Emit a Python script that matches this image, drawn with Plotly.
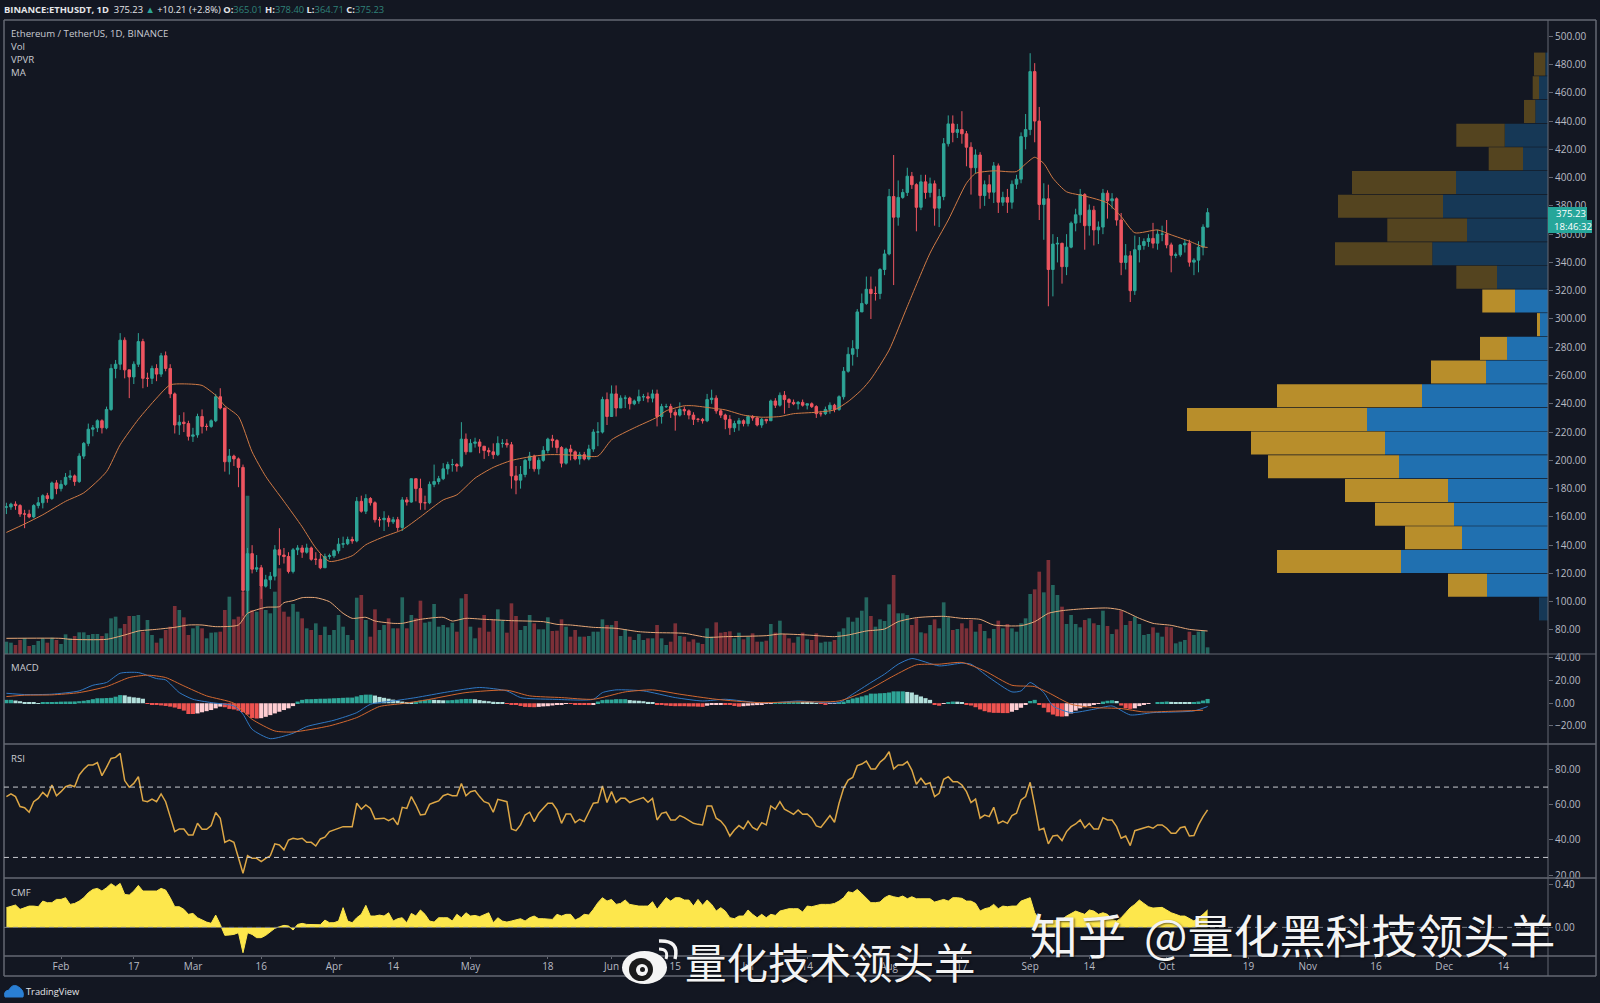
import pandas as pd
import plotly.graph_objects as go

W, H = 1600, 1003
X0, X1 = 4, 1548
dates = pd.date_range("2020-01-20", periods=265)

closes = [167,169,168,162,162,160,168,170,175,173,184,180,
 183,188,189,185,203,212,222,223,228,223,236,265,268,285,264,259,268,284,258,258,265,261,274,265,247,225,227,226,217,
 218,231,224,224,228,245,237,199,203,201,195,108,134,123,124,111,115.5,118,136.7,133,132,121.4,136.7,138,135,138,130,130,124,132,132.5,
 136,140.7,141,144,143,171,164,173,170,158,158,159,156.5,158,152.5,172,170.5,187,180,170,170,183,185,187,194,197,197,196,215,206,
 212,213,210,207,206,204,212,212,211,189,186,190,200,203,194,200,207,215,214,209,198,208,206,201,204,201,208,220,220,243,231,
 247,237,244,244,240,242,245,245,244,247,231,238,238,234,232,236,235,232,229,229,228,243,244,235,232,229,223,226,228,226,
 231,230,225,229,228,242,239,246,243,241,240,241,239,240,238,233,233,236,239,236,245,263,275,279,305,311,321,318,318,335,346,
 386.6,372,386,389.5,401,395,379,397,389.5,395.6,378.4,386.6,424,438,432,434,431,421.5,407,416,387.3,395,389.7,408.3,382.6,386,382.6,395.3,398.9,429,434,
 475,440,381,385,335,353,353.5,337,350.8,367.8,373.7,388,366,377,363,365,389,383.6,385,370,340,344.7,320,349,352,354.8,357,353.6,360,360,
 352.4,345,345.4,352.4,353.6,340.2,341.6,350.8,365,375.23]
highs = [170,170,171,169,165,165,169,174,176,177,185,186,
 186,191,193,190,205,213,226,225,229,229,238,268,271,290,287,262,270,290,286,262,267,268,276,277,268,248,232,234,228,
 223,233,236,226,229,247,251,237,208,204,202,197,138,140,133,126,119,121,140,152,138,135,138,140,140,141,139,135,134,134,134,
 137,145,146,146,146,174,175,176,174,171,160,164,161,160,160,174,174,187,187,187,175,185,197,189,198,199,201,198,227,219,
 215,216,215,210,209,212,217,215,215,213,196,196,201,206,204,202,210,216,218,215,210,209,211,207,206,206,211,222,227,245,248,
 253,253,246,246,245,243,250,247,248,250,250,240,240,240,236,241,238,236,234,230,230,247,250,246,236,233,232,228,230,229,
 232,232,231,230,229,243,244,248,249,244,243,242,243,240,241,239,235,238,241,240,246,266,280,285,307,318,330,330,323,336,349,
 392,416,398,392,407,404,396,402,402,400,398,392,428,444,444,438,447,433,425,420,418,398,402,411,410,390,392,398,402,432,445,
 488,481,450,396,395,360,358,354,360,369,378,392,389,381,380,369,392,391,389,386,375,353,348,359,358,357,360,368,363,366,
 370,354,347,353,356,356,343,355,367,378.4]
lows = [162,165,165,160,152,159,159,166,166,170,172,176,
 178,182,186,182,184,201,210,217,220,219,222,235,258,264,258,244,254,266,251,252,254,256,259,263,244,219,218,220,214,
 213,216,219,221,223,227,236,192,190,196,181,90,92,120,121,102,110,109,115,126,127,120,120,133,131,134,129,126,123,124,130,
 131,134,138,140,141,142,163,162,168,156,153,150,153,155,150,150,168,170,171,165,165,169,181,183,186,190,192,192,195,204,
 208,209,205,201,203,201,203,209,209,180,176,180,188,194,192,190,199,205,209,205,195,197,200,200,197,200,200,206,210,219,225,
 231,231,237,237,236,239,240,242,241,241,224,226,237,230,221,231,232,229,225,227,226,227,240,233,230,222,218,220,221,224,
 224,228,224,223,226,228,237,238,233,237,239,236,238,236,237,230,231,232,233,234,235,243,262,267,273,306,310,300,313,314,331,
 345,324,366,385,387,392,362,377,385,386,366,365,384,422,425,428,424,408,388,403,378,380,385,382,375,380,375,378,392,396,420,
 430,425,370,356,309,316,340,325,331,350,362,368,349,359,352,353,360,371,378,366,331,335,312,317,340,349,351,350,349,355,
 350,333,343,344,347,337,331,333,345,364.71]
first_open = 167
last_open = 365.01

volumes = [37,34,27,42,47,24,27,39,47,34, 49,42,30,59,47,54,65,65,57,60,
 60,54,62,107,112,77,90,114,114,117, 67,102,57,34,47,72,82,144,132,110,
 57,77,84,77,47,64,65,67,132,172, 104,112,187,475,132,127,202,132,122,187,
 257,127,112,150,127,107,77,72,92,57, 82,57,72,117,82,57,42,169,177,102,
 52,134,72,87,107,77,77,170,77,117, 107,160,94,97,150,82,87,80,94,67,
 167,180,82,47,79,117,67,104,134,102, 64,152,114,72,84,117,92,74,74,110,
 69,70,104,82,52,72,52,52,54,67, 67,104,87,87,99,54,74,52,42,60,
 42,47,47,87,47,27,37,92,54,52, 37,44,34,30,77,52,95,64,66,68,
 47,64,44,52,62,37,37,40,90,64, 100,60,47,34,52,64,44,42,62,34,
 37,37,42,67,77,110,97,109,130,170, 114,82,104,99,149,237,122,122,117,87,
 107,65,62,87,104,77,155,110,72,75, 92,77,102,67,90,69,47,75,100,77,
 90,77,67,92,107,180,194,247,185,282, 207,177,142,90,117,90,80,102,107,92,
 87,130,84,60,74,130,87,99,112,90, 57,60,80,64,52,82,80,32,37,42, 67,57,67,69,20]

ma_days = [0,4,8,13,17,22,25,29,33,36,40,43,46,48,51,54,57,61,65,68,71,76,79,83,87,91,96,99,103,107,111,116,119,122,126,130,133,138,143,145,149,151,155,158,162,166,170,173,178,182,185,188,190,194,198,203,207,211,213,217,222,224,226,228,230,233,237,242,245,248,253,256,260,263,264]
ma_vals = [149,155,161.5,171,177,192,211,229,244,253.4,254,253,246,238.6,231,206,188.6,171,153,138,128.5,132.5,140.3,146,150.9,160,172,175.6,187.4,195,199.9,203,204,204,203.4,203,214.5,223,230.5,235,238.6,238.6,237,235.7,232,230.5,231,233,234,235.7,241.6,250,257.5,278,308.8,346.6,370,396,403,404.8,404.3,409.7,414.4,410,399.6,390,387,382,372.5,361,363,359.5,355,351,350.6]

vma_days = [0,12,14,22,26,29,33,37,40,43,46,51,53,57,60,61,63,65,68,71,74,76,79,81,85,87,91,96,98,101,105,111,118,121,124,129,134,139,143,149,154,158,167,170,176,182,185,189,193,196,200,206,210,214,217,223,226,229,232,236,242,245,249,252,256,260,264]
vma_vals = [47,47,44,44,57,69,74,80,87,87,82,87,122,140,142,154,160,169,169,157,122,107,110,99,92,92,104,110,99,107,104,100,97,89,87,80,77,67,64,62,50,52,55,60,57,52,57,69,75,97,109,113,107,104,87,85,97,122,130,135,138,132,107,92,86,74,69]

macd_days = [0,4,10,16,19,22,25,29,33,35,38,41,45,50,52,54,58,63,66,72,77,80,85,90,97,104,110,113,120,129,131,134,140,147,153,158,165,169,174,183,186,190,193,196,199,205,210,212,216,221,223,225,228,230,234,239,243,247,252,261,264]
macd_vals = [8.8,7.7,8,10.9,15.9,18.3,26.5,27.1,21.8,20.6,9.4,3.5,.6,-2.4,-9.7,-23,-31.3,-26.5,-20.6,-15,-8.3,-.9,2,5,10,13.9,10.9,5,3.5,3.5,9.4,11.8,10.9,5,2,3.5,.6,.6,2,.6,8,18.3,25.7,34.5,39.5,33,35.4,34.5,22.7,10,10.9,18.3,9.4,-2.4,-8.3,-5.3,-2.4,-10.3,-8.3,-6.8,-2.9]
signal_days = [0,4,10,16,22,27,31,35,39,44,50,54,59,63,71,77,82,87,92,101,110,115,122,129,136,142,148,156,165,174,183,189,195,200,205,210,215,221,226,229,234,239,245,250,256,263]
signal_vals = [5.9,7.1,7.4,9.4,14.7,22.7,24.8,22.7,15.3,6.5,0,-14.2,-24.5,-25.4,-20,-12.7,-2.9,-.3,2.7,9.4,11.5,6.5,5,3.5,10,11.8,8,3.5,.6,1.2,2,10.9,24.2,33.9,34.5,36,28.6,15.9,14.7,9.4,-.9,-3.8,-4.7,-7.7,-7.1,-6.2]
hist_vals = [3,3,2.4,1.8,1,.6,.3,.1,.3,.6, .9,1.2,1.4,1.5,1.5,1.6,1.8,2.2,2.8,3.6,
 4.4,4.4,4.6,4.8,5.8,7.2,7.0,5.8,5.2,4.8, 4.0,-.4,-.9,-1.4,-1.9,-2.4,-3,-3.8,-5,-6.5,
 -9.5,-9.5,-9,-8,-7,-6,-4.5,-3,-3.5,-5, -5.5,-6.5,-8,-10,-13,-13.5,-13.2,-12,-10.5,-9,
 -7.5,-6,-4.5,-2.5,1.5,3,3.6,3.6,3.8,4, 4,4.2,4.4,4.6,4.8,5,5,6,7.2,7.6,
 7.6,6.8,5.6,4.8,4,3.2,2.4,1.5,.9,.6, 1.5,2.4,3,3.2,3,2.8,2.6,2.6,2.8,3.2,
 3.6,3.8,3.8,3.5,2.8,2.2,1.8,1.3,.8,.3, -.3,-.8,-1.4,-2.4,-3.2,-3.4,-3.5,-3.2,-2.8,-2.6,
 -2,-1.4,-.8,-.4,-.5,-1,-1.4,-1.5,-1.6,-1.2, 1.5,2.8,3.2,3.2,3.6,3.6,3.6,2.8,2.4,2.2,
 1.8,1.2,.6,-1,-1.5,-2,-2.4,-2.6,-2.6,-2.6, -2.8,-2.8,-3,-3.2,-2.2,-1.5,-1.2,-.8,-.8,-1.4,
 -2.4,-3,-2.6,-2.2,-1.8,-1.6,-1.2,-.6,-.3,.4, .8,1,1.2,1.2,1.2,1,.8,.4,.1,-.4,
 -.8,-.6,-.2,.4,1.5,3,4.2,5,6,7, 8.5,8.5,8.8,9,9.5,10.5,10.5,10.5,10,9.5,
 7.5,6,4.5,3,-1.5,-2.2,-.3,1,1.5,1.4, .8,-.7,-2,-3.5,-5.5,-7,-8,-8.5,-8.5,-8.7,
 -8.7,-7.5,-6,-4,-1.5,2,3,-1.5,-4,-8, -10,-11.5,-11.8,-11.5,-9,-6.5,-4.5,-3.5,-2.5,-1.5,
 -.5,1.5,2.2,2.6,2,-2,-4.5,-5,-4.5,-2.5, -1.5,-.5,0,1,1.2,1.5,1.2,.9,.8,.6, .5,1,1.5,2.4,3.8]

rsi_vals = [64.6,66.1,64.6,58.9,58.3,55.7,61.7,63.6,67,64.6, 71.2,65.1,67.4,70.2,71.2,70.2,76.9,80.1,82.6,82.6,
 83.9,76.5,81.2,86.3,86.9,89.2,73.7,69.9,72.1,75.9, 62.3,61.7,63.2,61.7,66.1,61.7,53.2,44.7,46.2,46.2,
 42.8,42.8,49.4,46,46,48.1,55.5,52.3,38.6,39.9, 38.6,29.5,21,31,29.5,29.5,27.6,29.5,30.9,37.7,
 37.1,34.3,39.9,40.9,40.3,40.9,38.6,38.6,36.5,40.5, 41.5,44.7,45.6,46.9,47.5,47.5,47.5,60.8,57.4,59.8,
 57.9,51.9,51.9,52.3,50.9,52.3,48.5,58.5,57.9,64.6, 59.8,54.1,54.5,60.2,61.2,62.1,65.1,66.1,65.1,65.1,
 72.1,65.1,67.4,68,64.6,61.7,60.8,55.7,63,62.3, 61.7,46.2,45.2,48.5,54.1,55.7,50.4,55.1,57.9,60.8,
 60.8,57,49.4,54.7,54.7,49.8,51.7,50.4,55.7,60.8, 61.2,70.6,61.2,67.4,61.2,63.6,63.6,61.2,62.3,63,
 64,61.4,63.6,51.3,55.1,55.7,51.3,51.3,53.8,52.6, 50.9,49.4,48.8,48.5,59.3,59.3,52.3,50.7,47.5,42.2,
 45.6,48.1,46.2,50.7,47.1,45.6,49.8,48.5,59.3,57.4, 61.7,57.4,56,54.5,57,54.5,54.7,52.3,47.9,47.1,
 50.4,53.8,50,60.8,69.3,74,75.5,82.2,83.1,84.8, 80.3,80.3,84.1,86.3,90.1,80.3,82.6,82.6,84.5,79.7,
 71.6,75,71.6,72.5,64.6,66.5,74.4,75.9,73.1,73.1, 71.2,67.4,61.2,63.2,52.3,54.1,53.2,58.5,49.4,50.7,
 49.4,53.8,55.1,62.7,64.6,72.7,59.5,45.6,46.6,37.7, 42.2,42.6,39.6,44.7,47.5,49,51.3,46.9,49.4,46.2,
 46.2,52.6,51.3,51.3,47.5,40.9,42.2,36.7,45.2,46, 46.8,47.5,46.6,48.5,48.5,46.6,43.7,43.7,46.9,47.5, 42.2,42.4,48.5,53.2,57]

cmf_vals = [.186,.201,.211,.170,.186,.201,.201,.195,.248,.233, .233,.264,.264,.280,.217,.226,.248,.280,.327,.358,
 .368,.343,.374,.412,.384,.415,.311,.305,.343,.396, .343,.343,.343,.343,.368,.352,.280,.195,.195,.170,
 .123,.132,.091,.069,.050,.038,.116,.028,-.075,-.072, -.066,-.050,-.239,-.050,-.066,-.097,-.097,-.075,-.044,-.009,
 .006,.019,.013,-.025,.028,.038,.028,.025,.025,.025, .069,.044,.044,.060,.186,.060,.044,.091,.123,.208,
 .107,.107,.116,.107,.138,.060,.082,.091,.044,.132, .107,.164,.123,.060,.050,.091,.091,.091,.060,.123,
 .091,.138,.107,.113,.101,.123,.138,.044,.091,.060, .050,.060,.069,.082,.060,.091,.107,.082,.082,.082,
 .075,.123,.107,.123,.123,.069,.091,.123,.116,.170, .233,.280,.248,.264,.217,.226,.258,.217,.208,.201,
 .201,.201,.242,.170,.226,.280,.248,.280,.280,.258, .258,.201,.264,.208,.258,.217,.154,.186,.154,.091,
 .082,.107,.107,.164,.123,.091,.123,.091,.123,.113, .154,.164,.176,.176,.176,.145,.201,.195,.208,.217,
 .217,.217,.226,.248,.280,.336,.327,.358,.318,.280, .233,.233,.239,.280,.302,.289,.280,.296,.270,.289,
 .270,.270,.270,.270,.239,.248,.264,.248,.280,.280, .274,.248,.248,.226,.154,.176,.186,.217,.176,.201,
 .195,.201,.201,.248,.264,.280,.138,.075,.060,.050, .060,.069,.075,.107,.132,.154,.138,.123,.164,.154,
 .123,.138,.123,.075,.060,.091,.138,.186,.217,.258, .226,.195,.182,.182,.189,.164,.138,.123,.107,.107, .082,.060,.091,.123,.164]

# Volume profile: price-row centres, up and total volume, top to bottom
vp_prices = [480.3,463.6,446.8,430.0,413.3,396.5,379.8,363.0,346.2,329.5,312.7,296.0,279.2,262.5,245.7,228.9,212.2,195.4,178.7,161.9,145.2,128.4,111.6,94.9]
vp_up = [2.7,9,12.7,43.3,25,92,105,81,115.7,51,33,8,41,62,126,181,163,149,100,94,86,147,61,9]
vp_total = [14,15.3,24,91.7,59.3,196,210,160.7,213,91.7,65.7,11,68,117,271,361,297,280,203,173,143,271,100,9]
vp_bright = [0,0,0,0,0,0,0,0,0,0,1,1,1,1,1,1,1,1,1,1,1,1,1,0]

price_ticks = list(range(80, 520, 20))
macd_ticks = [-20, 0, 20, 40]
rsi_ticks = [20, 40, 60, 80]
cmf_ticks = [0, 0.4]
time_ticks = ["2020-02-01","2020-02-17","2020-03-01","2020-03-16","2020-04-01","2020-04-14","2020-05-01","2020-05-18","2020-06-01","2020-06-15","2020-07-01","2020-07-14","2020-08-01","2020-08-17","2020-09-01","2020-09-14","2020-10-01","2020-10-19","2020-11-01","2020-11-16","2020-12-01","2020-12-14"]
time_labels = ["Feb","17","Mar","16","Apr","14","May","18","Jun","15","Jul","14","Aug","17","Sep","14","Oct","19","Nov","16","Dec","14"]

assert len(closes) == len(highs) == len(lows) == 265, (len(closes), len(highs), len(lows))
assert len(volumes) == 265, len(volumes)
assert len(hist_vals) == 265, len(hist_vals)
assert len(rsi_vals) == 265, len(rsi_vals)
assert len(cmf_vals) == 265, len(cmf_vals)
assert len(ma_days) == len(ma_vals) and len(vma_days) == len(vma_vals)
assert len(macd_days) == len(macd_vals) and len(signal_days) == len(signal_vals)

opens = [first_open] + closes[:-1]
opens[-1] = last_open

BG = "#131722"
UP, DOWN = "#2ea597", "#ee5560"
VUP, VDOWN = "#24665f", "#7c3038"
GRID = "#656873"
LABEL = "#b8bbc4"
FONT = "Open Sans"
DAY = 86400000

def px(x): return x / W
def py(y): return 1 - y / H
def when(d): return pd.Timestamp("2020-02-01") + pd.Timedelta(days=d)

t = [d.strftime("%Y-%m-%d") for d in dates]
pick = lambda idx: [t[i] for i in idx]

fig = go.Figure()

fig.add_trace(go.Bar(x=t, y=volumes, yaxis="y", xaxis="x", width=0.8 * DAY,
    marker=dict(color=[VUP if c >= o else VDOWN for o, c in zip(opens, closes)], line_width=0)))
fig.add_trace(go.Scatter(x=pick(vma_days), y=vma_vals, yaxis="y", xaxis="x", mode="lines",
    line=dict(color="#e8a878", width=1, shape="spline", smoothing=0.6)))

# volume profile on its own reversed axis
vp_down = [a - b for a, b in zip(vp_total, vp_up)]
fig.add_trace(go.Bar(y=vp_prices, x=vp_up, xaxis="x2", yaxis="y2", orientation="h", width=16.3,
    marker=dict(color=["#2070b0" if b else "#163856" for b in vp_bright], line_width=0)))
fig.add_trace(go.Bar(y=vp_prices, x=vp_down, base=vp_up, xaxis="x2", yaxis="y2", orientation="h", width=16.3,
    marker=dict(color=["#b88e2b" if b else "#54441f" for b in vp_bright], line_width=0)))

fig.add_trace(go.Candlestick(x=t, open=opens, high=highs, low=lows, close=closes, xaxis="x", yaxis="y2",
    increasing=dict(line=dict(color=UP, width=1), fillcolor=UP),
    decreasing=dict(line=dict(color=DOWN, width=1), fillcolor=DOWN), whiskerwidth=0))
fig.add_trace(go.Scatter(x=pick(ma_days), y=ma_vals, xaxis="x", yaxis="y2", mode="lines",
    line=dict(color="#d07a45", width=1, shape="spline", smoothing=0.6)))

hist_cols = []
for i, v in enumerate(hist_vals):
    prev = hist_vals[i - 1] if i else v
    if v >= 0:
        hist_cols.append("#2ea597" if v >= prev else "#b2dfdb")
    else:
        hist_cols.append("#ffcdd2" if v > prev else "#ef5350")
fig.add_trace(go.Bar(x=t, y=hist_vals, xaxis="x", yaxis="y3", width=0.9 * DAY, marker=dict(color=hist_cols, line_width=0)))
fig.add_trace(go.Scatter(x=pick(macd_days), y=macd_vals, xaxis="x", yaxis="y3", mode="lines",
    line=dict(color="#2f78c4", width=1, shape="spline", smoothing=0.6)))
fig.add_trace(go.Scatter(x=pick(signal_days), y=signal_vals, xaxis="x", yaxis="y3", mode="lines",
    line=dict(color="#d2672f", width=1, shape="spline", smoothing=0.6)))

fig.add_trace(go.Scatter(x=t, y=rsi_vals, xaxis="x", yaxis="y4", mode="lines", line=dict(color="#dda746", width=1.5)))
fig.add_trace(go.Scatter(x=t, y=cmf_vals, xaxis="x", yaxis="y5", mode="lines", fill="tozeroy",
    fillcolor="#fde74c", line=dict(color="#fde74c", width=1)))

def yax(top, bottom, rng, ticks, fmt=".2f", **kw):
    return dict(domain=[py(bottom), py(top)], range=rng, side="right", tickvals=ticks, tickformat=fmt,
                ticks="outside", ticklen=4, tickcolor=GRID, tickfont=dict(family=FONT, size=10, color=LABEL),
                showgrid=False, zeroline=False, showline=False, fixedrange=True, **kw)

xr = [when((X0 - 61) / 4.55), when((X1 - 61) / 4.55)]
fig.update_layout(
    width=W, height=H, margin=dict(l=0, r=0, t=0, b=0, pad=0, autoexpand=False), autosize=False,
    paper_bgcolor=BG, plot_bgcolor=BG, showlegend=False, barmode="overlay", boxgap=0.22,
    font=dict(family=FONT, color=LABEL), hovermode=False,
    xaxis=dict(domain=[px(X0), px(X1)], range=xr, type="date", anchor="y5", tickvals=time_ticks, ticktext=time_labels,
               ticks="outside", ticklen=2, ticklabelstandoff=-1, tickcolor=GRID, tickfont=dict(family=FONT, size=10, color=LABEL),
               showgrid=False, zeroline=False, showline=False, rangeslider=dict(visible=False), fixedrange=True),
    xaxis2=dict(domain=[px(X0), px(X1)], range=[X1 - X0, 0], overlaying="x", anchor="y2", visible=False, fixedrange=True),
    yaxis=dict(domain=[py(654), py(20)], range=[0, 1902], visible=False, fixedrange=True),
    yaxis2=yax(20, 654, [63, 511.5], price_ticks, overlaying="y", anchor="x"),
    yaxis3=yax(654, 744, [-36, 43.5], macd_ticks, anchor="x"),
    yaxis4=yax(744, 878, [18.3, 94.5], rsi_ticks, anchor="x"),
    yaxis5=yax(878, 956, [-0.27, 0.466], cmf_ticks, anchor="x"),
)

def hline(y, color=GRID, width=1.5):
    return dict(type="line", xref="paper", yref="paper", x0=px(X0), x1=px(1596), y0=py(y), y1=py(y), line=dict(color=color, width=width))

def box(x0, y0, x1, y1, fill):
    return dict(type="rect", xref="paper", yref="paper", x0=px(x0), x1=px(x1), y0=py(y1), y1=py(y0), fillcolor=fill, line_width=0)

shapes = [hline(20), hline(654, width=1), hline(744), hline(878), hline(956), hline(976)]
shapes += [dict(type="line", xref="paper", yref="paper", x0=px(x), x1=px(x), y0=py(20), y1=py(976), line=dict(color=GRID, width=w))
           for x, w in ((X0, 1.5), (X1, 1), (1596, 1.5))]
for level, ax in ((70, "y4"), (30, "y4"), (0, "y5")):
    shapes.append(dict(type="line", xref="paper", yref=ax, x0=px(X0), x1=px(X1), y0=level, y1=level,
                       line=dict(color="#c9cbd0" if ax == "y4" else "#787b86", width=1, dash="5px,4px")))
shapes += [box(1548, 207, 1587, 220, "#26a69a"), box(1548, 220, 1592, 233, "#26a69a")]

# small logos
P = lambda x, y: f"{px(x):.5f},{py(y):.5f}"
def circ(x0, y0, x1, y1, fill):
    return dict(type="circle", xref="paper", yref="paper", x0=px(x0), x1=px(x1), y0=py(y1), y1=py(y0), fillcolor=fill, line_width=0)
shapes += [
    circ(622, 951, 667, 984, "#f4f4f4"),
    circ(629, 958, 653, 981, "#1a1a1a"),
    circ(636, 964, 648, 976, "#f4f4f4"),
    circ(640, 967, 645, 972, "#1a1a1a"),
    dict(type="path", xref="paper", yref="paper", path=f"M {P(659, 941)} Q {P(680, 940)} {P(675, 959)}", line=dict(color="#f4f4f4", width=3.5)),
    dict(type="path", xref="paper", yref="paper", path=f"M {P(659, 949)} Q {P(669, 949)} {P(666, 959)}", line=dict(color="#f4f4f4", width=3)),
    dict(type="path", xref="paper", yref="paper",
         path=f"M {P(5, 997)} Q {P(3, 991)} {P(9, 990)} Q {P(12, 984)} {P(17, 986)} Q {P(25, 990)} {P(23, 997)} Z", fillcolor="#2a7fd4", line=dict(color="#2a7fd4", width=1)),
]
fig.update_layout(shapes=shapes)

def note(x, y, text, size=9.6, color="#c9cbd2", family=FONT, anchor="left", **kw):
    fig.add_annotation(xref="paper", yref="paper", x=px(x), y=py(y), text=text, showarrow=False, xanchor=anchor, yanchor="middle",
                       font=dict(family=family, size=size, color=color), align="left", borderpad=0, **kw)

teal = "#2f8279"
head = (f"<b>BINANCE:ETHUSDT, 1D</b>  375.23 <span style='color:#2ea597'>▲</span> +10.21 (+2.8%) "
        f"<b>O:</b><span style='color:{teal}'>365.01</span> <b>H:</b><span style='color:{teal}'>378.40</span> "
        f"<b>L:</b><span style='color:{teal}'>364.71</span> <b>C:</b><span style='color:{teal}'>375.23</span>")
note(3, 9, head, size=9.4, color="#e4e5e8")
note(10, 33, "Ethereum / TetherUS, 1D, BINANCE")
note(10, 46, "Vol")
note(10, 59, "VPVR")
note(10, 72, "MA")
note(10, 667, "MACD")
note(10, 758, "RSI")
note(10, 892, "CMF")
note(25, 991, "TradingView", size=9.3, color="#e4e5e8")
note(1555, 213.5, "375.23", color="#ffffff", size=9.6)
note(1553, 226.5, "18:46:32", color="#ffffff", size=9.6)

cjk = "Noto Sans CJK SC"
shadow = "1px 1px 2px rgba(0,0,0,0.6)"
for x, y, text, size in ((683, 961, "量化技术领头羊", 41.5), (1028, 933, "知乎", 48), (1142, 933, "@量化黑科技领头羊", 46)):
    fig.add_annotation(xref="paper", yref="paper", x=px(x), y=py(y), text=text, showarrow=False, xanchor="left", yanchor="middle",
                       font=dict(family=cjk, size=size, color="#f4f4f4", shadow=shadow))

fig.write_html("out.html", config={"displayModeBar": False},
               post_script="document.body.style.margin='0';document.body.style.overflow='hidden';document.body.style.background='#131722';")
